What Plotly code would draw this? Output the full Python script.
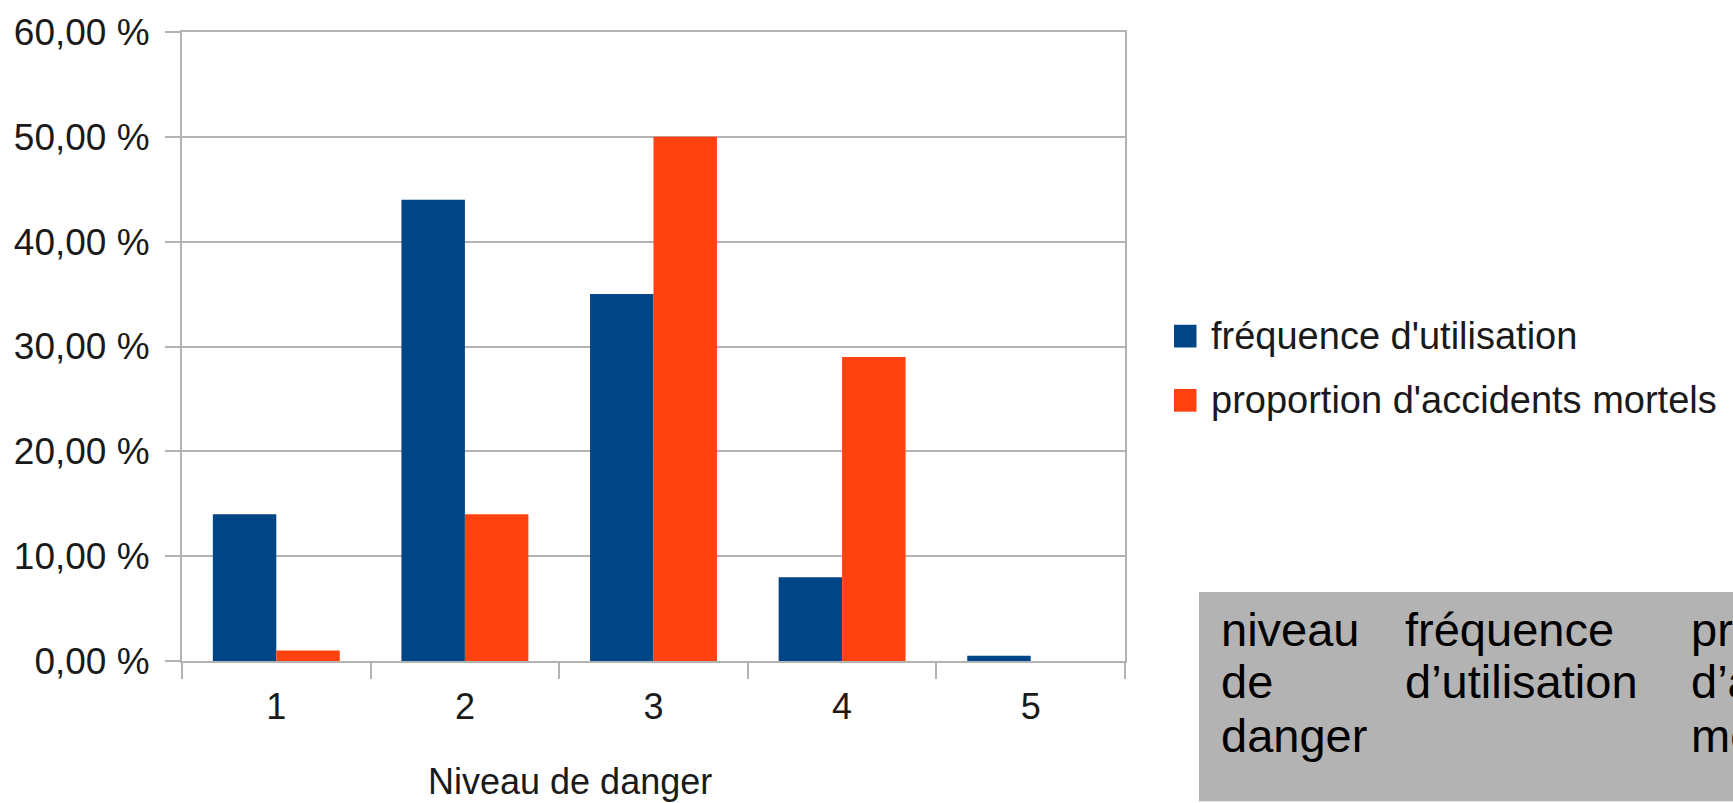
import plotly.graph_objects as go

# Niveaux de danger et séries (en %)
niveaux = ["1", "2", "3", "4", "5"]
frequence_utilisation = [14, 44, 35, 8, 0.5]
proportion_accidents = [1, 14, 50, 29, 0]
serie_noms = ["fréquence d'utilisation", "proportion d'accidents mortels"]
axe_x_titre = "Niveau de danger"
y_ticks = [0, 10, 20, 30, 40, 50, 60]
y_tick_labels = ["0,00 %", "10,00 %", "20,00 %", "30,00 %", "40,00 %", "50,00 %", "60,00 %"]

# En-têtes du tableau (colonnes coupées en lignes)
tableau_entetes = [
    ["niveau", "de", "danger"],
    ["fréquence", "d’utilisation"],
    ["proportion", "d’accidents", "mortels"],
]

BLEU = "#004586"
ORANGE = "#ff420e"
GRIS = "#b3b3b3"
TEXTE = "#1a1a1a"
FONT = "Liberation Sans, Arial, sans-serif"

FIG_W, FIG_H = 1733, 803
L, R, T, B = 182, 1125, 24, 661
W, H = R - L, B - T


def px_x(px):
    return (px - L) / W


def px_y(py):
    return (B - py) / H


fig = go.Figure()
fig.add_trace(go.Bar(x=niveaux, y=frequence_utilisation, name=serie_noms[0],
                     marker=dict(color=BLEU, line=dict(width=0))))
fig.add_trace(go.Bar(x=niveaux, y=proportion_accidents, name=serie_noms[1],
                     marker=dict(color=ORANGE, line=dict(width=0))))

shapes = []
annotations = []

# Légende dessinée à la main (grands carrés)
leg_rows = [(332, BLEU, serie_noms[0]), (397, ORANGE, serie_noms[1])]
for cy, col, label in leg_rows:
    shapes.append(dict(type="rect", xref="paper", yref="paper",
                       x0=px_x(1174), x1=px_x(1196.5),
                       y0=px_y(cy + 11.5), y1=px_y(cy - 11.5),
                       fillcolor=col, line=dict(width=0)))
    annotations.append(dict(x=px_x(1209), y=px_y(cy), xref="paper", yref="paper",
                            text=label, showarrow=False, xanchor="left",
                            yanchor="middle",
                            font=dict(family=FONT, size=38, color=TEXTE)))

# Titre de l'axe horizontal
annotations.append(dict(x=px_x(570), y=px_y(783), xref="paper", yref="paper",
                        text=axe_x_titre, showarrow=False, xanchor="center",
                        yanchor="middle",
                        font=dict(family=FONT, size=36, color=TEXTE)))

# Encadré gris du tableau
shapes.append(dict(type="rect", xref="paper", yref="paper",
                   x0=px_x(1199), x1=px_x(1760), y0=px_y(803), y1=px_y(591),
                   fillcolor=GRIS, line=dict(width=0), layer="above"))
col_x = [1219, 1403, 1689]
row_y = [629, 682, 736]
for cx, lignes in zip(col_x, tableau_entetes):
    for ry, mot in zip(row_y, lignes):
        annotations.append(dict(x=px_x(cx), y=px_y(ry), xref="paper", yref="paper",
                                text=mot, showarrow=False, xanchor="left",
                                yanchor="middle",
                                font=dict(family=FONT, size=47, color="#000000")))

fig.update_layout(
    width=FIG_W, height=FIG_H,
    margin=dict(l=L, r=FIG_W - R, t=T, b=FIG_H - B, pad=0),
    paper_bgcolor="white", plot_bgcolor="white",
    barmode="group", bargap=0.327, bargroupgap=0,
    showlegend=False,
    shapes=shapes, annotations=annotations,
    xaxis=dict(type="category", showgrid=False, showline=True, linecolor=GRIS,
               linewidth=2, mirror=True, ticks="outside", ticklen=16,
               tickwidth=2, tickcolor=GRIS, tickson="boundaries",
               tickfont=dict(family=FONT, size=36, color=TEXTE),
               ticklabelstandoff=13, zeroline=False),
    yaxis=dict(range=[0, 60], tickmode="array", tickvals=y_ticks,
               ticktext=y_tick_labels,
               showgrid=True, gridcolor=GRIS, gridwidth=2, showline=True,
               linecolor=GRIS, linewidth=2, mirror=True, ticks="outside",
               ticklen=15, tickwidth=2, tickcolor=GRIS, zeroline=False,
               tickfont=dict(family=FONT, size=37, color=TEXTE),
               ticklabelstandoff=8),
)

fig.write_html("out.html")
